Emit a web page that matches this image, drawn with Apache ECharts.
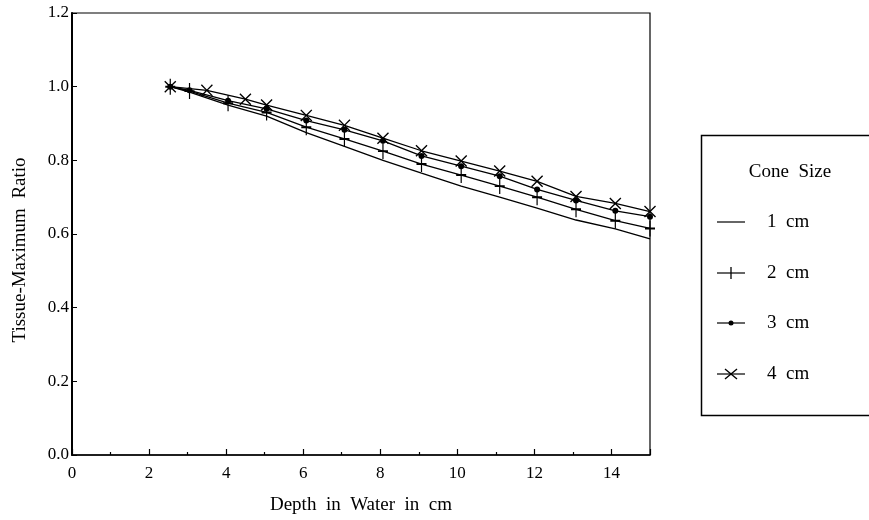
<!DOCTYPE html>
<html>
<head>
<meta charset="utf-8">
<script src="https://cdn.jsdelivr.net/npm/echarts@6/dist/echarts.min.js"></script>
<style>html,body{margin:0;padding:0;background:#fff;}#c{width:869px;height:520px;}</style>
</head>
<body>
<div id="c"></div>
<script>
// Data
var seriesNames = ['1  cm', '2  cm', '3  cm', '4  cm'];
var legendTitle = 'Cone  Size';
var xAxisTitle = 'Depth  in  Water  in  cm';
var yAxisTitle = 'Tissue-Maximum  Ratio';

var depth1 = [2.55, 3.05, 4.05, 5.05, 6.08, 7.07, 8.07, 9.07, 10.1, 11.1, 12.07, 13.08, 14.1, 15];
var tmr1   = [1.0, 0.985, 0.95, 0.92, 0.875, 0.838, 0.80, 0.765, 0.73, 0.70, 0.67, 0.638, 0.614, 0.587];

var depth2 = [2.55, 3.05, 4.05, 5.05, 6.08, 7.07, 8.07, 9.07, 10.1, 11.1, 12.07, 13.08, 14.1, 15];
var tmr2   = [1.0, 0.988, 0.955, 0.93, 0.89, 0.858, 0.825, 0.79, 0.76, 0.73, 0.70, 0.667, 0.636, 0.615];

var depth3 = [2.55, 3.05, 4.05, 5.05, 6.08, 7.07, 8.07, 9.07, 10.1, 11.1, 12.07, 13.08, 14.1, 15];
var tmr3   = [1.0, 0.99, 0.962, 0.94, 0.908, 0.883, 0.853, 0.812, 0.784, 0.757, 0.721, 0.691, 0.663, 0.647];

var depth4 = [2.55, 3.5, 4.5, 5.05, 6.08, 7.07, 8.07, 9.07, 10.1, 11.1, 12.07, 13.08, 14.1, 15];
var tmr4   = [1.0, 0.99, 0.966, 0.95, 0.922, 0.895, 0.86, 0.826, 0.798, 0.771, 0.743, 0.702, 0.683, 0.661];

var xTicks = [0, 2, 4, 6, 8, 10, 12, 14];

function pairs(xs, ys) { return xs.map(function (x, i) { return [x, ys[i]]; }); }

var FONT = '"Liberation Serif", "DejaVu Serif", serif';
var plusPath = 'path://M0,4.4H10V5.6H0Z M4.4,0H5.6V10H4.4Z';
var crossPath = 'path://M0.8,0L5,4.2L9.2,0L10,0.8L5.8,5L10,9.2L9.2,10L5,5.8L0.8,10L0,9.2L4.2,5L0,0.8Z';

var chart = echarts.init(document.getElementById('c'), null, { renderer: 'canvas' });

var base = {
  type: 'line',
  lineStyle: { color: '#000', width: 1.3 },
  itemStyle: { color: '#000' },
  emphasis: { disabled: true },
  animation: false
};

// legend drawn as graphic elements
var legendY = [222, 273, 323, 374];
var lx0 = 717, lx1 = 745, lxc = 731;
var legendGraphics = [
  { type: 'rect', left: 699, top: 133, shape: { width: 200, height: 280 },
    style: { fill: 'none', stroke: '#000', lineWidth: 1.5 }, silent: true },
  { type: 'text', x: 790, y: 172, style: { text: legendTitle, font: '19px ' + FONT, fill: '#000', align: 'center', verticalAlign: 'middle' }, silent: true },
  // y-axis title
  { type: 'text', x: 20, y: 250, rotation: Math.PI / 2,
    style: { text: yAxisTitle, font: '19px ' + FONT, fill: '#000', align: 'center', verticalAlign: 'middle' }, silent: true }
];
seriesNames.forEach(function (n, i) {
  var y = legendY[i];
  legendGraphics.push({ type: 'line', shape: { x1: lx0, y1: y, x2: lx1, y2: y }, style: { stroke: '#000', lineWidth: 1.2 }, silent: true });
  legendGraphics.push({ type: 'text', x: 767, y: y, style: { text: n, font: '19px ' + FONT, fill: '#000', align: 'left', verticalAlign: 'middle' }, silent: true });
  if (i === 1) {
    legendGraphics.push({ type: 'line', shape: { x1: lxc, y1: y - 6, x2: lxc, y2: y + 6 }, style: { stroke: '#000', lineWidth: 1.3 }, silent: true });
  } else if (i === 2) {
    legendGraphics.push({ type: 'circle', shape: { cx: lxc, cy: y, r: 2.5 }, style: { fill: '#000' }, silent: true });
  } else if (i === 3) {
    legendGraphics.push({ type: 'line', shape: { x1: lxc - 6, y1: y - 5, x2: lxc + 6, y2: y + 5 }, style: { stroke: '#000', lineWidth: 1.4 }, silent: true });
    legendGraphics.push({ type: 'line', shape: { x1: lxc - 6, y1: y + 5, x2: lxc + 6, y2: y - 5 }, style: { stroke: '#000', lineWidth: 1.4 }, silent: true });
  }
});

chart.setOption({
  backgroundColor: '#fff',
  animation: false,
  textStyle: { fontFamily: FONT, color: '#000' },
  grid: { left: 72, right: 219, top: 13, bottom: 65, show: true, borderColor: '#000', borderWidth: 1.2, backgroundColor: 'transparent' },
  xAxis: {
    type: 'value', min: 0, max: 15, interval: 2,
    name: xAxisTitle, nameLocation: 'middle', nameGap: 41,
    nameTextStyle: { fontFamily: FONT, fontSize: 19, color: '#000' },
    axisLine: { lineStyle: { color: '#000', width: 1.5 } },
    axisTick: { inside: true, length: 6, lineStyle: { color: '#000', width: 1.2 } },
    minorTick: { show: true, splitNumber: 2, length: 3, lineStyle: { color: '#000', width: 1.2 } },
    axisLabel: { fontFamily: FONT, fontSize: 17, color: '#000', margin: 10, showMaxLabel: false,
      formatter: function (v) { return xTicks.indexOf(v) >= 0 ? String(v) : ''; } },
    splitLine: { show: false }
  },
  yAxis: {
    type: 'value', min: 0, max: 1.2, interval: 0.2,
    axisLine: { lineStyle: { color: '#000', width: 2 } },
    axisTick: { inside: true, length: 5, lineStyle: { color: '#000', width: 1 } },
    axisLabel: { fontFamily: FONT, fontSize: 17, color: '#000', margin: 3,
      formatter: function (v) { return v.toFixed(1); } },
    splitLine: { show: false }
  },
  graphic: legendGraphics,
  series: [
    Object.assign({}, base, { name: seriesNames[0], data: pairs(depth1, tmr1), symbol: 'none', showSymbol: false }),
    Object.assign({}, base, { name: seriesNames[1], data: pairs(depth2, tmr2), symbol: plusPath, symbolSize: [10, 16], showSymbol: true }),
    Object.assign({}, base, { name: seriesNames[2], data: pairs(depth3, tmr3), symbol: 'circle', symbolSize: 6, showSymbol: true }),
    Object.assign({}, base, { name: seriesNames[3], data: pairs(depth4, tmr4), symbol: crossPath, symbolSize: 12, showSymbol: true })
  ]
});
</script>
</body>
</html>
